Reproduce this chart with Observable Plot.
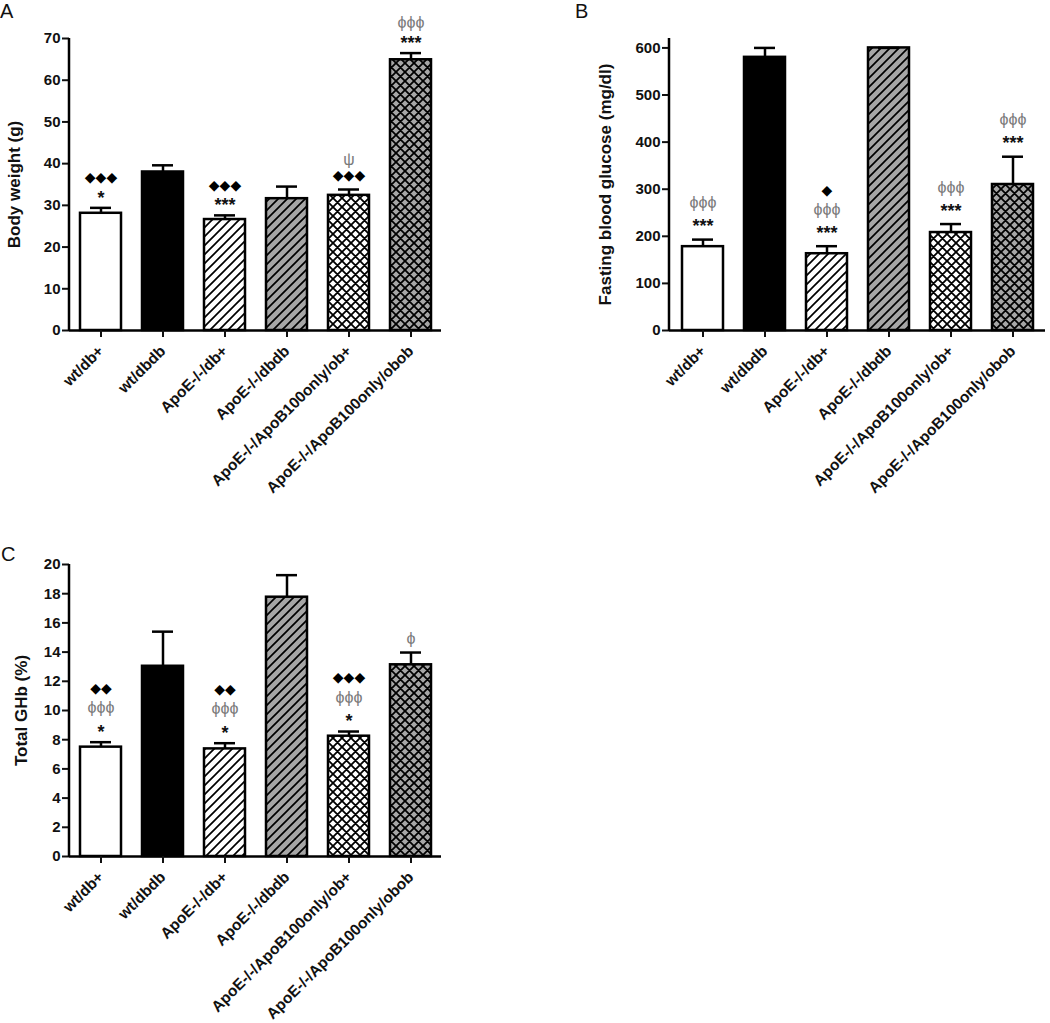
<!DOCTYPE html>
<html><head><meta charset="utf-8">
<script src="https://cdn.jsdelivr.net/npm/d3@7"></script>
<script src="https://cdn.jsdelivr.net/npm/@observablehq/plot@0.6"></script>
<style>
body{margin:0;background:#fff;}
#wrap{position:relative;width:1050px;height:1023px;overflow:hidden;font-family:"Liberation Sans",Arial,sans-serif;background:#fff;}
.panel{position:absolute;}
.letter{position:absolute;font-size:20px;line-height:1;color:#111;}
</style></head><body><div id="wrap"></div>
<script>
// ---- data ----
const groups = ["wt/db+", "wt/dbdb", "ApoE-/-/db+", "ApoE-/-/dbdb", "ApoE-/-/ApoB100only/ob+", "ApoE-/-/ApoB100only/obob"];

const bodyWeightMean = [28.1, 38.0, 26.6, 31.6, 32.4, 64.9];
const bodyWeightSem  = [1.3, 1.6, 1.0, 2.9, 1.4, 1.6];
const bodyWeightTicks = [0, 10, 20, 30, 40, 50, 60, 70];
const bodyWeightSig = [["◆◆◆", "*"], [], ["◆◆◆", "***"], [], ["ψ", "◆◆◆"], ["ϕϕϕ", "***"]];

const glucoseMean = [178, 580, 163, 600, 208, 310];
const glucoseSem  = [15, 20, 16, 0, 18, 59];
const glucoseTicks = [0, 100, 200, 300, 400, 500, 600];
const glucoseSig = [["ϕϕϕ", "***"], [], ["◆", "ϕϕϕ", "***"], [], ["ϕϕϕ", "***"], ["ϕϕϕ", "***"]];

const ghbMean = [7.49, 13.03, 7.37, 17.76, 8.24, 13.13];
const ghbSem  = [0.34, 2.37, 0.39, 1.51, 0.32, 0.84];
const ghbTicks = [0, 2, 4, 6, 8, 10, 12, 14, 16, 18, 20];
const ghbSig = [["◆◆", "ϕϕϕ", "*"], [], ["◆◆", "ϕϕϕ", "*"], [], ["◆◆◆", "ϕϕϕ", "*"], ["ϕ"]];

// ---- styling ----
const patternKeys = ["white", "black", "hw", "hg", "cw", "cg"];
const GRAY = "#a6a6a6";

function fillFor(idp, k) {
  if (k === "white") return "white";
  if (k === "black") return "black";
  return `url(#${idp}-${k})`;
}

function extras(idp) {
  return (index, scales, values, dim) => {
    const ns = "http://www.w3.org/2000/svg";
    const g = document.createElementNS(ns, "g");
    const s = 9;
    const hatch = `M-2,2 L2,-2 M0,${s} L${s},0 M${s - 2},${s + 2} L${s + 2},${s - 2}`;
    const back = `M-2,${s - 2} L2,${s + 2} M0,0 L${s},${s} M${s - 2},-2 L${s + 2},2`;
    const pat = (id, bg, d, w) => `<pattern id="${idp}-${id}" patternUnits="userSpaceOnUse" width="${s}" height="${s}"><rect width="${s}" height="${s}" fill="${bg}"/><path d="${d}" stroke="black" stroke-width="${w}" fill="none"/></pattern>`;
    const x = dim.marginLeft;
    g.innerHTML = `<defs>${pat("hw", "white", hatch, 1.7)}${pat("hg", GRAY, hatch, 1.7)}${pat("cw", "white", hatch + " " + back, 1.8)}${pat("cg", GRAY, hatch + " " + back, 1.8)}</defs>` +
      `<line x1="${x}" x2="${x}" y1="${dim.marginTop}" y2="${dim.height - dim.marginBottom + 1}" stroke="black" stroke-width="2.5"/>`;
    return g;
  };
}

function symType(s) {
  if (s.includes("*")) return "star";
  if (s.includes("◆")) return "diamond";
  return "greek";
}
const symStyle = {
  star: {fontSize: 18, fill: "#111", adj: 4, weight: "bold"},
  diamond: {fontSize: 14, fill: "#000", adj: 0, weight: "bold"},
  greek: {fontSize: 16, fill: "#7a7a7a", adj: 0, weight: "normal"}
};

function panel({idp, means, sems, ticks, domain, label, sig, width, height, marginLeft, marginRight, marginTop, marginBottom, titleDx, first, step}) {
  const rows = groups.map((g, i) => ({group: g, mean: means[i], top: means[i] + sems[i], key: patternKeys[i]}));
  const sigRows = [];
  groups.forEach((g, i) => {
    const lines = sig[i];
    lines.forEach((s, j) => {
      const level = lines.length - 1 - j;
      sigRows.push({group: g, top: rows[i].top, text: s, level, type: symType(s)});
    });
  });
  const marks = [];
  rows.forEach(r => {
    marks.push(Plot.barY([r], {x: "group", y: "mean", fill: fillFor(idp, r.key), stroke: "black", strokeWidth: 2.5}));
  });
  marks.push(Plot.ruleX(rows, {x: "group", y1: "mean", y2: "top", stroke: "black", strokeWidth: 2.5}));
  marks.push(Plot.tickY(rows, {x: "group", y: "top", stroke: "black", strokeWidth: 2.5, insetLeft: 10, insetRight: 10}));
  for (const type of ["star", "diamond", "greek"]) {
    for (const level of [0, 1, 2]) {
      const d = sigRows.filter(r => r.type === type && r.level === level);
      if (!d.length) continue;
      const st = symStyle[type];
      marks.push(Plot.text(d, {x: "group", y: "top", text: "text", dy: -(first + step * level) + st.adj,
        fontSize: st.fontSize, fill: st.fill, fontWeight: st.weight, fontFamily: "'Liberation Sans', 'DejaVu Sans', sans-serif"}));
    }
  }
  marks.push(Plot.ruleY([0], {stroke: "black", strokeWidth: 2.5}));
  marks.push(Plot.axisY({ticks, tickSize: 7, tickPadding: 2, fontSize: 15, fontWeight: "bold", strokeWidth: 2, label: null}));
  marks.push(Plot.axisX({tickRotate: -45, tickSize: 7, tickPadding: 11, fontSize: 15.5, fontWeight: "bold", strokeWidth: 2, label: null}));
  marks.push(Plot.text([label], {frameAnchor: "left", textAnchor: "middle", rotate: -90, dx: titleDx, fontSize: 17, fontWeight: "bold", fill: "#111"}));
  marks.push(extras(idp));
  return Plot.plot({
    width, height, marginLeft, marginRight, marginTop, marginBottom,
    style: {fontFamily: "'Liberation Sans', Arial, sans-serif", color: "#111", background: "white", overflow: "visible"},
    x: {domain: groups, paddingInner: 0.34, paddingOuter: 0.17},
    y: {domain, nice: false},
    marks
  });
}

const wrap = document.getElementById("wrap");
function place(el, left, top) {
  const d = document.createElement("div");
  d.className = "panel";
  d.style.left = left + "px";
  d.style.top = top + "px";
  d.appendChild(el);
  wrap.appendChild(d);
}
function letter(t, left, top) {
  const d = document.createElement("div");
  d.className = "letter";
  d.textContent = t;
  d.style.left = left + "px";
  d.style.top = top + "px";
  wrap.appendChild(d);
}

place(panel({idp: "a", means: bodyWeightMean, sems: bodyWeightSem, ticks: bodyWeightTicks, domain: [0, 70],
  label: "Body weight (g)", sig: bodyWeightSig, width: 530, height: 530,
  marginLeft: 69, marginRight: 89, marginTop: 38, marginBottom: 200, titleDx: -55, first: 14, step: 16}), 0, 0);

place(panel({idp: "b", means: glucoseMean, sems: glucoseSem, ticks: glucoseTicks, domain: [0, 620],
  label: "Fasting blood glucose (mg/dl)", sig: glucoseSig, width: 490, height: 530,
  marginLeft: 109, marginRight: 5, marginTop: 38, marginBottom: 200, titleDx: -64, first: 17, step: 19.5}), 560, 0);

place(panel({idp: "c", means: ghbMean, sems: ghbSem, ticks: ghbTicks, domain: [0, 20],
  label: "Total GHb (%)", sig: ghbSig, width: 530, height: 483,
  marginLeft: 69, marginRight: 89, marginTop: 24, marginBottom: 167, titleDx: -48, first: 14, step: 20}), 0, 540);

letter("A", 0, 1);
letter("B", 575, 1);
letter("C", 1, 544);
</script></body></html>
